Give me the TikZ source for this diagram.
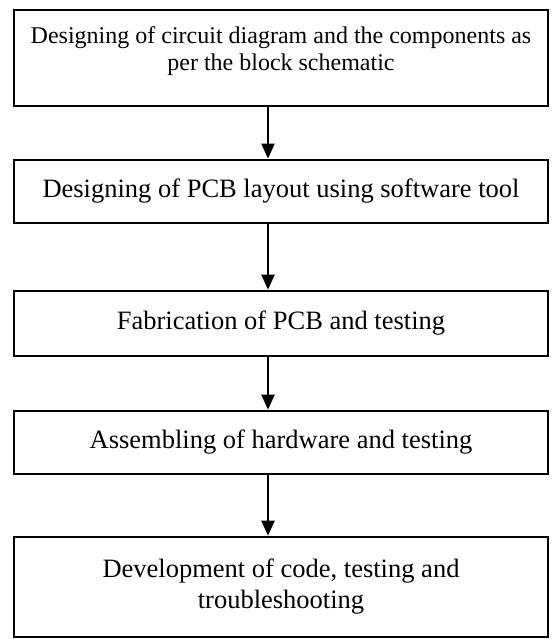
\documentclass[tikz,border=0pt]{standalone}
\usepackage{fontspec}
\setmainfont{Liberation Serif}
\usetikzlibrary{arrows.meta}
\tikzset{stepbox/.style={draw, line width=2.7pt, minimum width=534pt, align=center, inner sep=0pt, font=\fontsize{26.5}{31}\selectfont}}
\tikzset{flow/.style={line width=2.2pt, -{Triangle[width=13pt,length=15pt]}}}

\begin{document}
\begin{tikzpicture}[x=1pt,y=1pt]
  \useasboundingbox (0,0) rectangle (551,-639);

  % steps
  \node [stepbox, minimum height=96pt, font=\fontsize{24}{27}\selectfont] (circuit) at (281,-58) {Designing of circuit diagram and the components as\\per the block schematic\\[-8pt]\mbox{}};
  \node [stepbox, minimum height=63pt] (layout) at (281,-191.5) {Designing of PCB layout using software tool};
  \node [stepbox, minimum height=65pt] (fab) at (281,-323.5) {Fabrication of PCB and testing};
  \node [stepbox, minimum height=63pt] (assembly) at (281,-442.5) {Assembling of hardware and testing};
  \node [stepbox, minimum height=100pt] (code) at (281,-587) {Development of code, testing and\\troubleshooting};

  % arrows
  \draw [flow] ([xshift=-13pt]circuit.south) -- ([xshift=-13pt]layout.north);
  \draw [flow] ([xshift=-13pt]layout.south) -- ([xshift=-13pt]fab.north);
  \draw [flow] ([xshift=-13pt]fab.south) -- ([xshift=-13pt]assembly.north);
  \draw [flow] ([xshift=-13pt]assembly.south) -- ([xshift=-13pt]code.north);

\end{tikzpicture}
\end{document}
